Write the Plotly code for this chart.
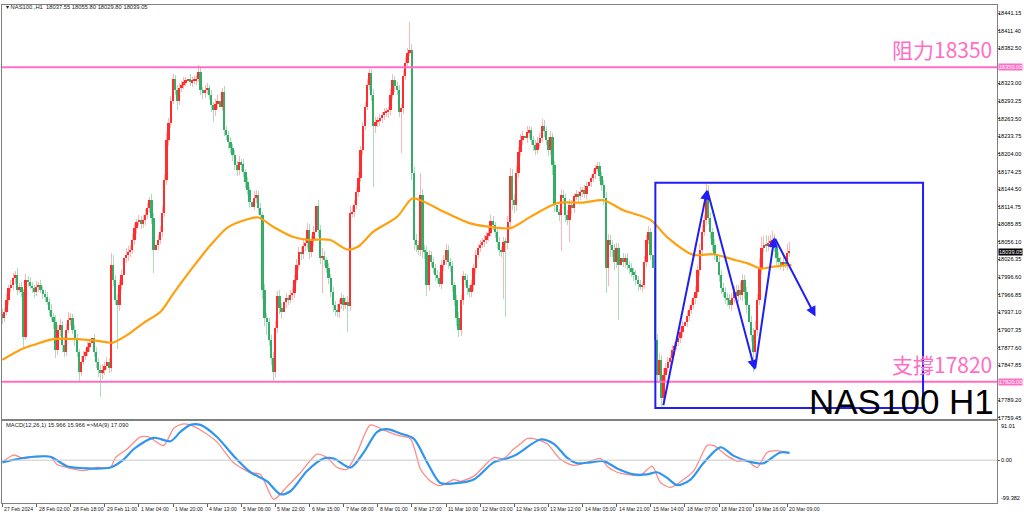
import plotly.graph_objects as go

# ---------------- data ----------------
first_open = 17935.0
closes = [
    17928, 17938, 17958, 17978, 17983, 17995, 18000, 17975, 17980, 17971,
    17896, 17992, 17988, 17982, 17978, 17971, 17980, 17983, 17975, 17968,
    17963, 17955, 17941, 17930, 17921, 17874, 17908, 17916, 17882, 17871,
    17908, 17924, 17928, 17908, 17891, 17870, 17837, 17854, 17864, 17870,
    17879, 17886, 17894, 17870, 17854, 17840, 17835, 17840, 17847, 17854,
    17844, 18017, 17992, 17958, 17950, 17983, 18000, 18029, 18034, 18039,
    18042, 18059, 18079, 18089, 18093, 18086, 18093, 18101, 18113, 18126,
    18096, 18042, 18050, 18059, 18072, 18104, 18160, 18227, 18256, 18294,
    18331, 18311, 18294, 18315, 18321, 18325, 18328, 18331, 18325, 18328,
    18328, 18331, 18342, 18311, 18306, 18311, 18315, 18303, 18286, 18278,
    18288, 18294, 18284, 18308, 18244, 18236, 18224, 18214, 18202, 18185,
    18177, 18190, 18187, 18173, 18157, 18143, 18123, 18115, 18130, 18135,
    18113, 18101, 17975, 17928, 17921, 17891, 17860, 17837, 17911, 17965,
    17944, 17938, 17955, 17961, 17958, 17966, 17970, 17992, 18017, 18039,
    18035, 18049, 18054, 18076, 18039, 18059, 18072, 18116, 18076, 18029,
    18032, 18025, 18012, 17995, 17971, 17950, 17941, 17938, 17951, 17961,
    17950, 17955, 17948, 18104, 18106, 18118, 18140, 18163, 18210, 18252,
    18284, 18320, 18340, 18303, 18252, 18258, 18261, 18264, 18269, 18274,
    18274, 18278, 18303, 18328, 18318, 18311, 18274, 18281, 18336, 18358,
    18375, 18379, 18172, 18059, 18050, 18042, 18135, 18042, 18039, 17983,
    18034, 18022, 18012, 18000, 17995, 17985, 18017, 18025, 18042, 18022,
    18015, 17983, 17958, 17928, 17908, 17958, 17998, 17992, 17978, 17971,
    17983, 18012, 18034, 18046, 18051, 18056, 18059, 18066, 18071, 18091,
    18084, 18072, 18056, 18042, 18039, 18056, 18054, 18089, 18167, 18126,
    18118, 18172, 18207, 18227, 18234, 18231, 18241, 18244, 18227, 18219,
    18210, 18222, 18231, 18251, 18242, 18227, 18210, 18232, 18185, 18118,
    18106, 18101, 18135, 18130, 18101, 18093, 18118, 18113, 18133, 18136,
    18133, 18140, 18143, 18136, 18150, 18157, 18163, 18170, 18180, 18183,
    18167, 18152, 18130, 18012, 18059, 18051, 18042, 18022, 18046, 18017,
    18029, 18022, 18029, 18017, 18012, 18005, 18000, 17992, 17985, 17980,
    17983, 18022, 18059, 18072, 18034, 18012, 17891, 17832, 17857, 17793,
    17832, 17844, 17854, 17860, 17874, 17881, 17887, 17894, 17904, 17914,
    17921, 17931, 17941, 17950, 17961, 17971, 18009, 18042, 18072, 18093,
    18140, 18096, 18072, 18051, 18034, 18022, 18000, 17978, 17971, 17961,
    17958, 17950, 17961, 17971, 17965, 17975, 17966, 17992, 17971, 17950,
    17921, 17899, 17871, 17908, 17958, 18012, 18046, 18051, 18049, 18054,
    18056, 18059, 18046, 18029, 18022, 18017, 18022, 18019, 18037.55, 18039.05,
]
wick_up = [
    8, 6, 10, 6, 8, 8, 6, 12, 6, 8,
    6, 10, 6, 8, 6, 6, 10, 6, 8, 6,
    6, 8, 6, 10, 6, 12, 8, 10, 6, 14,
    10, 14, 8, 6, 8, 10, 6, 10, 8, 6,
    8, 6, 10, 6, 8, 6, 8, 10, 6, 8,
    6, 20, 16, 8, 10, 8, 8, 46, 12, 10,
    8, 10, 8, 6, 8, 6, 8, 10, 8, 6,
    10, 8, 6, 8, 10, 12, 10, 12, 8, 8,
    8, 6, 10, 8, 6, 8, 6, 6, 8, 6,
    8, 6, 12, 8, 6, 10, 8, 6, 8, 6,
    8, 10, 6, 8, 10, 8, 6, 8, 6, 8,
    8, 10, 6, 8, 6, 8, 6, 8, 12, 8,
    6, 8, 6, 10, 8, 6, 8, 10, 12, 8,
    10, 8, 6, 8, 6, 8, 10, 8, 10, 8,
    8, 10, 8, 12, 10, 8, 10, 40, 10, 8,
    14, 8, 6, 8, 6, 8, 6, 10, 8, 8,
    6, 8, 10, 12, 10, 8, 8, 10, 8, 6,
    8, 10, 8, 8, 10, 8, 6, 8, 6, 8,
    8, 6, 10, 10, 8, 8, 10, 8, 8, 10,
    8, 47, 10, 10, 10, 8, 37, 10, 8, 10,
    8, 6, 8, 6, 8, 10, 8, 8, 10, 8,
    6, 8, 6, 8, 10, 8, 8, 6, 8, 6,
    8, 6, 8, 6, 8, 6, 8, 6, 8, 10,
    8, 6, 6, 8, 6, 8, 6, 10, 14, 12,
    10, 12, 8, 10, 8, 8, 10, 8, 6, 8,
    8, 10, 8, 12, 10, 8, 6, 10, 8, 8,
    8, 6, 10, 8, 6, 8, 10, 8, 6, 8,
    6, 8, 6, 8, 6, 8, 6, 8, 6, 8,
    8, 6, 8, 10, 10, 8, 8, 10, 8, 8,
    6, 8, 6, 8, 6, 8, 6, 8, 6, 6,
    6, 10, 8, 10, 8, 8, 14, 10, 12, 8,
    12, 8, 8, 6, 8, 6, 8, 6, 8, 8,
    6, 8, 6, 8, 6, 10, 8, 10, 12, 8,
    15, 12, 10, 8, 10, 8, 10, 8, 8, 8,
    8, 10, 8, 10, 12, 8, 14, 10, 8, 8,
    8, 10, 12, 14, 10, 16, 18, 14, 16, 12,
    12, 16, 10, 8, 10, 8, 12, 10, 14, 16.75,
]
wick_dn = [
    10, 8, 6, 8, 6, 8, 10, 8, 6, 8,
    18, 6, 8, 6, 8, 10, 6, 8, 6, 8,
    8, 6, 10, 8, 12, 14, 8, 10, 12, 10,
    8, 6, 10, 8, 10, 8, 18, 8, 6, 8,
    6, 8, 6, 8, 10, 12, 40, 10, 8, 6,
    10, 8, 10, 8, 75, 10, 8, 6, 8, 10,
    8, 6, 8, 10, 6, 8, 6, 8, 6, 8,
    10, 38, 10, 8, 6, 8, 6, 8, 10, 8,
    6, 8, 16, 8, 6, 8, 6, 8, 6, 8,
    6, 8, 6, 8, 10, 8, 6, 8, 12, 20,
    10, 8, 16, 8, 10, 8, 12, 8, 10, 8,
    10, 8, 12, 8, 10, 8, 10, 8, 6, 8,
    10, 8, 16, 14, 22, 10, 12, 18, 10, 8,
    10, 12, 8, 10, 8, 6, 8, 8, 6, 8,
    10, 8, 8, 10, 12, 8, 10, 8, 12, 10,
    60, 10, 8, 10, 8, 12, 10, 8, 10, 8,
    10, 8, 44, 8, 6, 8, 6, 8, 6, 8,
    8, 6, 8, 10, 104, 12, 8, 10, 8, 8,
    8, 10, 8, 6, 10, 8, 8, 69, 10, 8,
    8, 6, 12, 16, 12, 8, 10, 14, 12, 18,
    10, 8, 8, 10, 8, 6, 8, 10, 8, 12,
    10, 12, 10, 14, 13, 10, 8, 10, 12, 8,
    8, 10, 8, 6, 8, 6, 8, 6, 8, 6,
    8, 10, 12, 10, 8, 80, 125, 10, 12, 16,
    14, 10, 8, 6, 8, 6, 8, 10, 8, 10,
    8, 6, 8, 6, 10, 8, 10, 8, 16, 12,
    14, 10, 60, 10, 12, 8, 38, 10, 8, 6,
    8, 6, 8, 6, 8, 6, 8, 6, 8, 6,
    8, 10, 12, 42, 30, 20, 12, 14, 10, 92,
    10, 8, 10, 8, 10, 8, 10, 8, 12, 6,
    8, 6, 8, 6, 8, 14, 16, 14, 12, 15,
    10, 12, 8, 10, 8, 10, 8, 6, 8, 8,
    6, 8, 8, 6, 8, 10, 8, 10, 8, 6,
    8, 10, 12, 10, 8, 10, 12, 10, 8, 10,
    10, 8, 10, 8, 12, 10, 8, 10, 12, 14,
    16, 12, 34, 14, 10, 8, 10, 8, 10, 8,
    8, 10, 8, 12, 10, 8, 10, 8, 10, 7.75,
]

# orange moving average, sampled along the curve (bar index, price)
ma_bars = [0, 8.4, 14.5, 23.9, 35.2, 44.5, 51.6, 58.6, 66.1, 74.1, 80.2, 89.5, 97.5,
           105.5, 114.9, 120, 127.1, 136.4, 144.4, 149.1, 153.8, 161.6, 166.9, 173.9,
           185, 192.1, 196, 208.5, 219.4, 228.8, 238.2, 247.5, 260, 272.4, 281.8,
           291.1, 303.8, 311.6, 323.9, 333.3, 342.7, 349.1, 355.4, 361.5, 369.9]
ma_vals = [17857, 17874, 17882, 17892, 17892, 17889, 17886, 17899, 17919, 17938, 17969,
           18014, 18050, 18080, 18094, 18097, 18081, 18064, 18059, 18060, 18059, 18043,
           18048, 18073, 18098, 18129, 18126, 18104, 18087, 18081, 18079, 18098, 18121,
           18122, 18126, 18109, 18093, 18064, 18034, 18035, 18026, 18020, 18011, 18014,
           18017]

# MACD main line (red) and its MA(9) signal (blue), sampled
macd_bars = [0, 5.3, 10, 14.7, 22.5, 25.6, 30.3, 38.1, 44.4, 50.6, 53, 58.5, 64.7, 68.6,
             75.6, 80.3, 84.2, 87.3, 92.8, 100.6, 108.4, 116.3, 121, 127.2, 133.5, 139.7,
             147.5, 152.2, 156.9, 161.6, 166.3, 172.5, 178.8, 185, 191.3, 196, 200.7,
             205.3, 211.6, 214.7, 221, 230.3, 235, 239.7, 242.8, 246, 249.1, 255.4,
             261.6, 267.8, 274.1, 280.4, 283.5, 288.2, 292.9, 299.1, 304.6, 308.5,
             313.2, 317.9, 324.1, 330.4, 333.5, 339.8, 344.4, 349.1, 353.8, 358.5,
             363.2, 369]
macd_vals = [-4, 12, 4, 8, 8, -10, -17, -24, -17, -17, 6, 26, 54, 54, 34, 74, 84, 83, 70,
             42, -6, -29, -33, -91, -61, -29, 14, 6, -17, -21, 18, 82, 70, 58, 50, -21,
             -49, -59, -45, -49, -37, 6, 4, 26, 38, 50, 50, 38, 2, -12, -5, 4, -14, -28,
             -33, -35, -14, -52, -63, -50, -25, 34, 34, 10, -2, -1, -17, 18, 22, 15.966]
sig_bars = [0, 8.4, 14.7, 22.5, 30.3, 39.7, 50.6, 56.9, 61.6, 70.9, 78.8, 83.5, 88.1,
            92.8, 100.6, 108.4, 116.3, 124.1, 130.3, 135, 142.8, 150.6, 155.3, 163.2,
            169.4, 175.7, 180.4, 186.6, 192.8, 199.1, 205.3, 211.6, 221, 230.3, 236.6,
            241.3, 252.2, 258.5, 264.7, 269.4, 275.7, 281.9, 288.2, 296, 302.2, 306.9,
            311.6, 316.3, 322.6, 328.8, 336.6, 342.9, 349.1, 353.8, 356.9, 364.7, 369]
sig_vals = [-5, 4, 8, 8, -14, -19, -17, 2, 26, 52, 44, 66, 82, 82, 54, 10, -28, -49, -79,
            -72, -25, 4, 4, -17, 18, 66, 72, 62, 50, -5, -53, -54, -45, -5, 4, 14, 48,
            38, 6, -7, -5, -2, -19, -33, -33, -28, -41, -58, -45, -6, 30, 10, -2, -7,
            -7, 18, 17.09]

price_ticks = [18441.15, 18411.40, 18382.50, 18323.00, 18293.25, 18263.50, 18233.75,
               18204.00, 18174.25, 18144.50, 18114.75, 18085.85, 18056.10, 18026.35,
               17996.60, 17966.85, 17937.10, 17907.35, 17877.60, 17847.85, 17789.20,
               17759.45]
date_labels = ["27 Feb 2024", "28 Feb 02:00", "28 Feb 18:00", "29 Feb 11:00",
               "1 Mar 04:00", "1 Mar 20:00", "4 Mar 13:00", "5 Mar 06:00",
               "5 Mar 22:00", "6 Mar 15:00", "7 Mar 08:00", "8 Mar 01:00",
               "8 Mar 17:00", "11 Mar 10:00", "12 Mar 03:00", "12 Mar 19:00",
               "13 Mar 12:00", "14 Mar 05:00", "14 Mar 21:00", "15 Mar 14:00",
               "18 Mar 07:00", "18 Mar 23:00", "19 Mar 16:00", "20 Mar 09:00"]
date_step = 16

resistance = 18350.0
support = 17820.0
last_ohlc = [18037.55, 18055.80, 18029.80, 18039.05]
macd_top, macd_bottom = 91.01, -99.382

zig_bars = [309.7, 330.4, 352.8, 361.9, 381.2]
zig_prices = [17778, 18144, 17840, 18063.5, 17930]
box_bars = [306.1, 431.6]
box_prices = [17775.8, 18155.3]

# ---------------- derived series ----------------
n = len(closes)
bars = list(range(n))
opens = [first_open] + closes[:-1]
highs = [max(o, c) + w for o, c, w in zip(opens, closes, wick_up)]
lows = [min(o, c) - w for o, c, w in zip(opens, closes, wick_dn)]
is_up = [c >= o for o, c in zip(opens, closes)]
body_base = [min(o, c) for o, c in zip(opens, closes)]
body_len = [max(abs(c - o), 1.5) for o, c in zip(opens, closes)]

RED, GREEN = "#ff2d2d", "#34ad66"
RED_W, GREEN_W = "rgba(255,90,90,0.45)", "rgba(52,173,102,0.42)"
PINK = "#ff6ec4"
BLUE = "#1f1ff5"
SANS = "Liberation Sans, Arial, sans-serif"

# ---------------- geometry ----------------
W, H = 1024, 516
ML, MR, MT, MB = 2, 27, 5, 13
PW, PH = W - ML - MR, H - MT - MB
BAR_PX = 2.133
X0 = -0.2
X1 = X0 + PW / BAR_PX
Y_LO, Y_HI = 17757.3, 18455.1


def px_x(px):
    return (px - ML) / PW


def px_y(py):
    return (H - MB - py) / PH


main_dom = [px_y(419), 1.0]
macd_dom = [0.0, px_y(421)]

fig = go.Figure()
fig.add_trace(go.Bar(x=bars, base=lows, y=[h - l for h, l in zip(highs, lows)],
                     width=0.45, marker=dict(color=[RED_W if u else GREEN_W for u in is_up],
                                             line=dict(width=0)),
                     xaxis="x", yaxis="y", hoverinfo="skip", showlegend=False))
fig.add_trace(go.Bar(x=bars, base=body_base, y=body_len, width=0.85,
                     marker=dict(color=[RED if u else GREEN for u in is_up], line=dict(width=0)),
                     xaxis="x", yaxis="y", hoverinfo="skip", showlegend=False))
fig.add_trace(go.Scatter(x=ma_bars, y=ma_vals, mode="lines", line=dict(color="#ffa010", width=2.2, shape="spline", smoothing=0.8),
                         xaxis="x", yaxis="y", hoverinfo="skip", showlegend=False))
fig.add_trace(go.Scatter(x=macd_bars, y=macd_vals, mode="lines",
                         line=dict(color="#ff8a8a", width=1.3, shape="spline", smoothing=0.7),
                         xaxis="x2", yaxis="y2", hoverinfo="skip", showlegend=False))
fig.add_trace(go.Scatter(x=sig_bars, y=sig_vals, mode="lines",
                         line=dict(color="#2f96f0", width=2.2, shape="spline", smoothing=0.8),
                         xaxis="x2", yaxis="y2", hoverinfo="skip", showlegend=False))

shapes = [
    dict(type="line", xref="paper", x0=0, x1=1, yref="y", y0=resistance, y1=resistance,
         line=dict(color=PINK, width=2)),
    dict(type="line", xref="paper", x0=0, x1=1, yref="y", y0=support, y1=support,
         line=dict(color=PINK, width=2)),
    dict(type="line", xref="paper", x0=0, x1=1, yref="y2", y0=0, y1=0,
         line=dict(color="#c8c8c8", width=1)),
    dict(type="rect", xref="x", yref="y", x0=box_bars[0], x1=box_bars[1],
         y0=box_prices[0], y1=box_prices[1], line=dict(color=BLUE, width=2)),
]

small = dict(family=SANS, size=5.6, color="#000000")
anns = []
for i in range(1, len(zig_bars)):
    anns.append(dict(x=zig_bars[i], y=zig_prices[i], ax=zig_bars[i - 1], ay=zig_prices[i - 1],
                     xref="x", yref="y", axref="x", ayref="y", text="", showarrow=True,
                     arrowhead=2, arrowsize=1.0, arrowwidth=2, arrowcolor=BLUE))

anns.append(dict(x=px_x(4), y=px_y(7), xref="paper", yref="paper", xanchor="left", yanchor="middle",
                 text="▾ NAS100.,H1  %.2f %.2f %.2f %.2f" % tuple(last_ohlc),
                 showarrow=False, font=dict(family=SANS, size=5.8, color="#222")))
anns.append(dict(x=px_x(4), y=px_y(425), xref="paper", yref="paper", xanchor="left", yanchor="middle",
                 text="MACD(12,26,1) 15.966 15.966 =>MA(9) 17.090",
                 showarrow=False, font=dict(family=SANS, size=5.8, color="#222")))
anns.append(dict(x=px_x(994), y=resistance, xref="paper", yref="y", xanchor="right", yanchor="bottom",
                 yshift=1, text="阻力18350", showarrow=False,
                 font=dict(family="Noto Sans CJK TC", size=21, color=PINK)))
anns.append(dict(x=px_x(994), y=support, xref="paper", yref="y", xanchor="right", yanchor="bottom",
                 yshift=1, text="支撐17820", showarrow=False,
                 font=dict(family="Noto Sans CJK TC", size=21, color=PINK)))
anns.append(dict(x=px_x(996), y=px_y(401), xref="paper", yref="paper", xanchor="right", yanchor="middle",
                 text="NAS100 H1", showarrow=False,
                 font=dict(family=SANS, size=35, color="#000")))
# price-scale labels (right-aligned inside the 27 px strip)
for v in price_ticks:
    anns.append(dict(x=px_x(1023), y=v, xref="paper", yref="y", xanchor="right", yanchor="middle",
                     text="%.2f" % v, showarrow=False, font=small))
for val, bg in [(resistance, PINK), (support, PINK), (last_ohlc[3], "#000000")]:
    anns.append(dict(x=px_x(1023), y=val, xref="paper", yref="y", xanchor="right", yanchor="middle",
                     text="%.2f" % val, showarrow=False, bgcolor=bg, borderpad=0,
                     font=dict(family=SANS, size=5.6, color="#ffffff")))
anns.append(dict(x=px_x(999), y=macd_top, xref="paper", yref="y2", xanchor="left", yanchor="top",
                 text="%.2f" % macd_top, showarrow=False, font=small))
anns.append(dict(x=px_x(999), y=0, xref="paper", yref="y2", xanchor="left", yanchor="middle",
                 text="0.00", showarrow=False, font=small))
anns.append(dict(x=px_x(999), y=macd_bottom, xref="paper", yref="y2", xanchor="left", yanchor="bottom",
                 text="%.3f" % macd_bottom, showarrow=False, font=small))
for k, lab in enumerate(date_labels):
    anns.append(dict(x=k * date_step, y=px_y(509), xref="x2", yref="paper", xanchor="left",
                     yanchor="middle", xshift=0, text=lab, showarrow=False,
                     font=dict(family=SANS, size=5.2, color="#222")))

axis_line = dict(showline=True, mirror=True, linecolor="#808080", linewidth=1, showgrid=False,
                 zeroline=False, automargin=False)
fig.update_layout(
    width=W, height=H, margin=dict(l=ML, r=MR, t=MT, b=MB, autoexpand=False),
    paper_bgcolor="#ffffff", plot_bgcolor="#ffffff", barmode="overlay", bargap=0,
    showlegend=False, shapes=shapes, annotations=anns,
    xaxis=dict(range=[X0, X1], domain=[0, 1], anchor="y", showticklabels=False, ticks="",
               **axis_line),
    xaxis2=dict(range=[X0, X1], domain=[0, 1], anchor="y2", matches="x", showticklabels=False,
                ticks="outside", ticklen=3, tickcolor="#606060",
                tickvals=[k * date_step for k in range(len(date_labels))], **axis_line),
    yaxis=dict(range=[Y_LO, Y_HI], domain=main_dom, anchor="x", side="right",
               tickvals=price_ticks, showticklabels=False,
               ticks="outside", ticklen=2, tickcolor="#606060", **axis_line),
    yaxis2=dict(range=[macd_bottom, macd_top], domain=macd_dom, anchor="x2", side="right",
                tickvals=[0], showticklabels=False, ticks="outside", ticklen=2,
                tickcolor="#606060", **axis_line),
)

fig.write_html("out.html", config={"displayModeBar": False},
               post_script="document.body.style.margin='0';")
